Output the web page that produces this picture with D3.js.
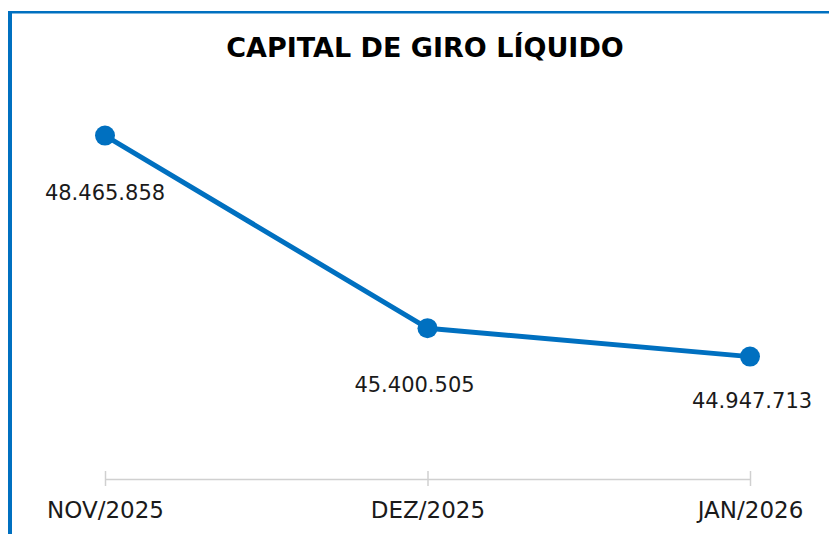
<!DOCTYPE html>
<html><head><meta charset="utf-8">
<script src="https://cdn.jsdelivr.net/npm/d3@7"></script>
<style>html,body{margin:0;padding:0;background:#fff;}svg{display:block;}</style>
</head><body>
<svg id="chart" width="829" height="534"></svg>
<script>
const categories = ["NOV/2025", "DEZ/2025", "JAN/2026"];
const values = [48465858, 45400505, 44947713];
const labels = ["48.465.858", "45.400.505", "44.947.713"];
const title = "CAPITAL DE GIRO LÍQUIDO";

const W = 829, H = 534;
const blue = "#0070C0";
const font = "'DejaVu Sans', sans-serif";
const svg = d3.select("#chart");

svg.append("rect").attr("x", 0).attr("y", 0).attr("width", W).attr("height", H).attr("fill", "#fff");
// frame (top + left borders)
svg.append("rect").attr("x", 8).attr("y", 11).attr("width", W - 8).attr("height", 2.5).attr("fill", blue);
svg.append("rect").attr("x", 8).attr("y", 11).attr("width", 4).attr("height", H - 11).attr("fill", blue);

svg.append("text").attr("x", 425).attr("y", 57).attr("text-anchor", "middle")
  .attr("font-family", font).attr("font-weight", "bold").attr("font-size", 27)
  .attr("fill", "#000").text(title);

const x = d3.scalePoint().domain(categories).range([105, 750]).padding(0);
const y = d3.scaleLinear().domain([43000000, 49000000]).range([479, 102]);

// x axis
const axis = d3.axisBottom(x).tickSize(0).tickFormat("");
const gx = svg.append("g").attr("transform", "translate(0,479)").call(axis);
gx.select(".domain").attr("stroke", "#d0d0d0").attr("stroke-width", 1.5);
gx.selectAll(".tick").append("line").attr("y1", -8).attr("y2", 7)
  .attr("stroke", "#d0d0d0").attr("stroke-width", 1.5);
gx.selectAll(".tick").append("text").attr("y", 39).attr("text-anchor", "middle")
  .attr("font-family", font).attr("font-size", 23).attr("fill", "#1a1a1a")
  .text(d => d);

const data = categories.map((c, i) => ({c, v: values[i], l: labels[i], i}));

svg.append("path").datum(data)
  .attr("fill", "none").attr("stroke", blue).attr("stroke-width", 5)
  .attr("stroke-linejoin", "round")
  .attr("d", d3.line().x(d => x(d.c)).y(d => y(d.v)));

svg.selectAll("circle.pt").data(data).join("circle").attr("class", "pt")
  .attr("cx", d => x(d.c)).attr("cy", d => y(d.v)).attr("r", 10).attr("fill", blue);

// data labels below points
const nudge = [[0, 0], [-13, 0], [2, -13]];
svg.selectAll("text.lbl").data(data).join("text").attr("class", "lbl")
  .attr("x", d => x(d.c) + nudge[d.i][0]).attr("y", d => y(d.v) + 64 + nudge[d.i][1])
  .attr("text-anchor", "middle").attr("font-family", font).attr("font-size", 21)
  .attr("fill", "#1a1a1a").text(d => d.l);
</script>
</body></html>
